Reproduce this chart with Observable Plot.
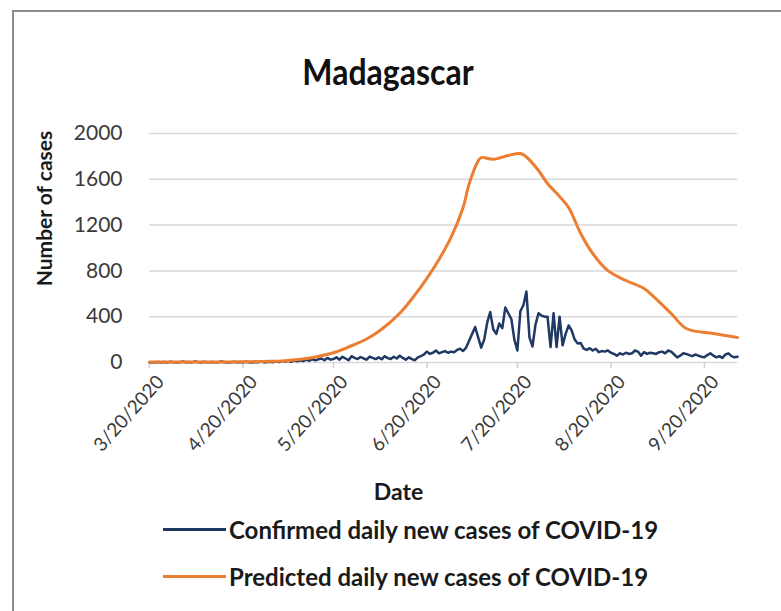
<!DOCTYPE html>
<html>
<head>
<meta charset="utf-8">
<script src="https://cdn.jsdelivr.net/npm/d3@7"></script>
<script src="https://cdn.jsdelivr.net/npm/@observablehq/plot@0.6"></script>
<style>
  html, body { margin: 0; padding: 0; background: #fff; overflow: hidden; }
  #wrap { position: relative; width: 781px; height: 611px; overflow: hidden; font-family: Lato, "Open Sans", sans-serif; }
  #frame { position: absolute; left: 12px; top: 10px; width: 820px; height: 720px; border: 2px solid #8c8c8c; box-sizing: border-box; }
  #title { position: absolute; left: 0; top: 51px; width: 776px; text-align: center; font-size: 32px; font-weight: 700; color: #111; line-height: 40px; transform: scaleY(1.15); transform-origin: 50% 50%; }
  #chart { position: absolute; left: 0; top: 0; }
  .leg { position: absolute; left: 163px; height: 28px; display: flex; align-items: center; font-size: 24px; font-weight: 700; color: #1a1a1a; white-space: nowrap; }
  .leg .sw { width: 63px; height: 3px; margin-right: 3px; }
</style>
</head>
<body>
<div id="wrap">
  <div id="frame"></div>
  <div id="chart"></div>
  <div id="title">Madagascar</div>
  <div class="leg" id="leg1" style="top:515px"><span class="sw" style="background:#203864"></span><span>Confirmed daily new cases of COVID-19</span></div>
  <div class="leg" id="leg2" style="top:562px"><span class="sw" style="background:#ED7D31"></span><span>Predicted daily new cases of COVID-19</span></div>
</div>
<script>
// ---- data ----
const confirmedStart = "2020-03-20";
const confirmedValues = [
  3, 0, 2, 5, 0, 4, 1, 6, 2, 0, 3,
  8, 2, 5, 1, 10, 4, 0, 6, 3, 2,
  5, 1, 4, 8, 2, 0, 3, 6, 1, 4,
  2, 7, 3, 0, 5, 2, 8, 1, 4, 6,
  3, 10, 5, 12, 8, 15, 6, 18, 10, 20,
  12, 25, 15, 30, 18, 28, 35, 20, 40, 25,
  30, 45, 25, 50, 35, 20, 55, 40, 30, 48,
  35, 25, 52, 40, 30, 45, 28, 55, 38, 30,
  50, 35, 60, 40, 25, 45, 30, 20, 45, 55,
  70, 95, 75, 85, 105, 80, 90, 100, 85, 95,
  90, 110, 120, 100, 130, 190, 250, 310, 220, 130,
  200, 350, 440, 290, 250, 340, 300, 480, 430, 380,
  200, 105, 450, 500, 620, 220, 140, 330, 430, 410,
  400, 400, 135, 430, 135, 400, 150, 250, 323, 280,
  200, 166, 170, 122, 110, 125, 105, 120, 90, 100,
  95, 105, 85, 75, 60, 80, 70, 85, 75, 80,
  105, 95, 60, 90, 75, 85, 80, 75, 90, 95,
  80, 105, 95, 70, 45, 60, 80, 75, 65, 55,
  70, 60, 50, 45, 65, 80, 60, 45, 55, 40,
  70, 80, 55, 45, 50
];

const predictedDates = [
  "2020-03-20", "2020-03-30", "2020-04-09", "2020-04-19", "2020-04-29", "2020-05-04",
  "2020-05-09", "2020-05-14", "2020-05-20", "2020-05-25", "2020-05-31", "2020-06-05",
  "2020-06-11", "2020-06-16", "2020-06-20", "2020-06-24", "2020-06-28", "2020-07-02",
  "2020-07-04", "2020-07-07", "2020-07-08", "2020-07-12", "2020-07-17", "2020-07-21",
  "2020-07-23", "2020-07-27", "2020-07-30", "2020-08-03", "2020-08-06", "2020-08-10",
  "2020-08-14", "2020-08-19", "2020-08-25", "2020-08-31", "2020-09-03", "2020-09-09",
  "2020-09-14", "2020-09-23", "2020-10-01"
];
const predictedValues = [
  5, 5, 5, 6, 10, 15,
  28, 48, 85, 135, 205, 290,
  430, 590, 735, 900, 1092, 1354,
  1560, 1760, 1790, 1775, 1808, 1825,
  1795, 1677, 1563, 1450, 1354, 1127,
  952, 803, 716, 646, 580, 428,
  297, 253, 218
];

const xTickDates = ["2020-03-20", "2020-04-20", "2020-05-20", "2020-06-20", "2020-07-20", "2020-08-20", "2020-09-20"];
const xTickLabels = ["3/20/2020", "4/20/2020", "5/20/2020", "6/20/2020", "7/20/2020", "8/20/2020", "9/20/2020"];
const yTicks = [0, 400, 800, 1200, 1600, 2000];

// ---- build tables ----
const start = new Date(confirmedStart);
const confirmed = confirmedValues.map((v, i) => ({date: d3.utcDay.offset(start, i), value: v}));
const predicted = predictedDates.map((d, i) => ({date: new Date(d), value: predictedValues[i]}));
const xTicks = xTickDates.map((d, i) => ({date: new Date(d), label: xTickLabels[i]}));

const chart = Plot.plot({
  width: 781,
  height: 611,
  marginLeft: 149,
  marginRight: 44,
  marginTop: 133,
  marginBottom: 249,
  style: {fontFamily: "Lato, 'Open Sans', sans-serif", background: "transparent", overflow: "visible"},
  x: {type: "utc", domain: [new Date("2020-03-20"), new Date("2020-10-01")], axis: null},
  y: {domain: [0, 2000], axis: null},
  marks: [
    Plot.gridY(yTicks, {stroke: "#d9d9d9", strokeOpacity: 1, strokeWidth: 1.5}),
    Plot.ruleX(xTicks, {x: "date", y1: 0, y2: -55, stroke: "#d0d0d0", strokeWidth: 1.5}),
    Plot.text(yTicks, {y: d => d, text: d => String(d), frameAnchor: "left", textAnchor: "end", dx: -27, fontSize: 21, fill: "#3a3a3a"}),
    Plot.text(xTicks, {x: "date", text: "label", frameAnchor: "bottom", rotate: -48, textAnchor: "end", lineAnchor: "middle", dx: 11, dy: 16, fontSize: 19, fill: "#3a3a3a"}),
    Plot.text(["Number of cases"], {frameAnchor: "top-left", rotate: -90, textAnchor: "middle", lineAnchor: "middle", dx: -104, dy: 75, fontSize: 21, fontWeight: "bold", fill: "#1a1a1a"}),
    Plot.text(["Date"], {frameAnchor: "bottom", lineAnchor: "bottom", textAnchor: "middle", dy: 137, dx: -45, fontSize: 23, fontWeight: "bold", fill: "#1a1a1a"}),
    Plot.lineY(confirmed, {x: "date", y: "value", stroke: "#203864", strokeWidth: 2.5}),
    Plot.lineY(predicted, {x: "date", y: "value", stroke: "#ED7D31", strokeWidth: 3, curve: "catmull-rom"})
  ]
});
document.getElementById("chart").appendChild(chart);
</script>
</body>
</html>
